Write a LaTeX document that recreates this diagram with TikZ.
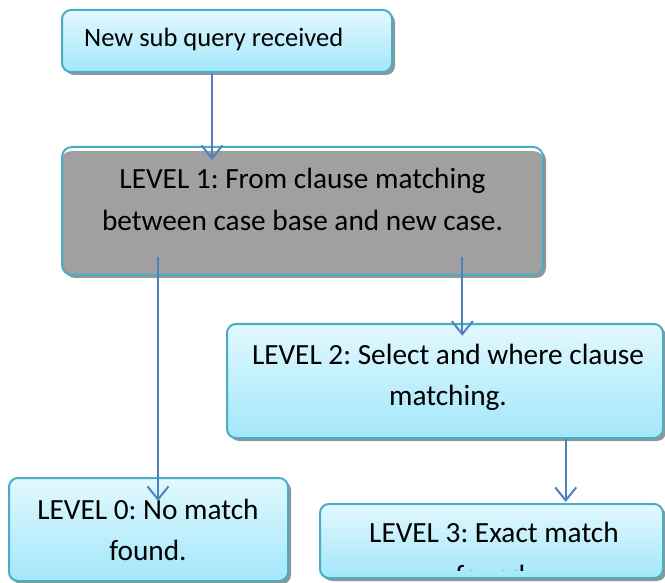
\documentclass[tikz,border=0pt]{standalone}
\usepackage{fontspec}
\setmainfont{Carlito}
\frenchspacing
\usepackage{tikz}
\usetikzlibrary{arrows.meta,positioning,calc,shadows}
\definecolor{boxtop}{RGB}{226,248,254}
\definecolor{boxbot}{RGB}{162,231,250}
\definecolor{boxline}{RGB}{75,172,198}
\definecolor{arrblue}{RGB}{79,129,189}
\definecolor{lvlgray}{RGB}{160,160,160}
\tikzset{
  blk/.style={rectangle,draw=boxline,line width=2pt,top color=boxtop,bottom color=boxbot,
    rounded corners=9pt,drop shadow={shadow xshift=3pt,shadow yshift=-3pt,fill=black!42,opacity=1}},
  grayblk/.style={rectangle,draw=boxline,line width=2pt,fill=white,rounded corners=10pt,
    drop shadow={shadow xshift=3pt,shadow yshift=-3pt,fill=black!42,opacity=1},
    path picture={\filldraw[fill=lvlgray,draw=black!38,line width=1.5pt,rounded corners=9pt]
      ([yshift=-5pt]path picture bounding box.north west) rectangle
      ([yshift=-12pt]path picture bounding box.south east);}},
  qtxt/.style={inner sep=0pt,font=\fontsize{26.5}{31}\selectfont},
  lvltxt/.style={inner sep=0pt,align=flush center,font=\fontsize{29.3}{41.8}\selectfont},
  arr/.style={-{Straight Barb[length=13pt,width=21pt]},line width=2pt,color=arrblue}
}
\begin{document}
\begin{tikzpicture}[x=1pt,y=1pt]
  \useasboundingbox (0,0) rectangle (665,-583);

  % boxes
  \node[blk,minimum width=330pt,minimum height=62pt] (query) at (227,-41) {};
  \node[grayblk,minimum width=481pt,minimum height=128pt] (lvl1) at (302.5,-211) {};
  \node[blk,minimum width=436pt,minimum height=114pt] (lvl2) at (445,-381) {};
  \node[blk,minimum width=279pt,minimum height=103pt] (lvl0) at (148.5,-529.5) {};
  \node[blk,minimum width=343pt,minimum height=74pt] (lvl3) at (491.5,-541) {};

  % texts
  \node[qtxt,anchor=base west] (querytxt) at ([xshift=23pt,yshift=-38pt]query.north west) {New sub query received};
  \node[lvltxt,text width=440pt,anchor=base] (lvl1txt) at ([yshift=-43pt]lvl1.north)
    {LEVEL 1: From clause matching\\between case base and new case.};
  \node[lvltxt,text width=420pt,anchor=base] (lvl2txt) at ([xshift=3pt,yshift=-41pt]lvl2.north)
    {LEVEL 2: Select and where clause\\matching.};
  \node[lvltxt,text width=260pt,anchor=base] (lvl0txt) at ([xshift=-0.5pt,yshift=-42pt]lvl0.north)
    {LEVEL 0: No match\\found.};
  \begin{scope}
    % second line runs past the bottom of the box
    \clip ([yshift=8.5pt]lvl3.south west) rectangle (lvl3.north east);
    \node[lvltxt,text width=320pt,anchor=base] (lvl3txt) at ([xshift=2.5pt,yshift=-39pt]lvl3.north)
      {LEVEL 3: Exact match\\[1.5pt]found.};
  \end{scope}

  % arrows
  \draw[arr] ([xshift=-15pt]query.south) -- ([xshift=-90.5pt,yshift=-14pt]lvl1.north);
  \draw[arr] ([xshift=-144.5pt,yshift=19pt]lvl1.south) -- ([xshift=9.5pt,yshift=-24pt]lvl0.north);
  \draw[arr] ([xshift=159.8pt,yshift=19pt]lvl1.south) -- ([xshift=17.3pt,yshift=-12.7pt]lvl2.north);
  \draw[arr] ([xshift=120.7pt]lvl2.south) -- ([xshift=74.2pt,yshift=1pt]lvl3.north);
\end{tikzpicture}
\end{document}
